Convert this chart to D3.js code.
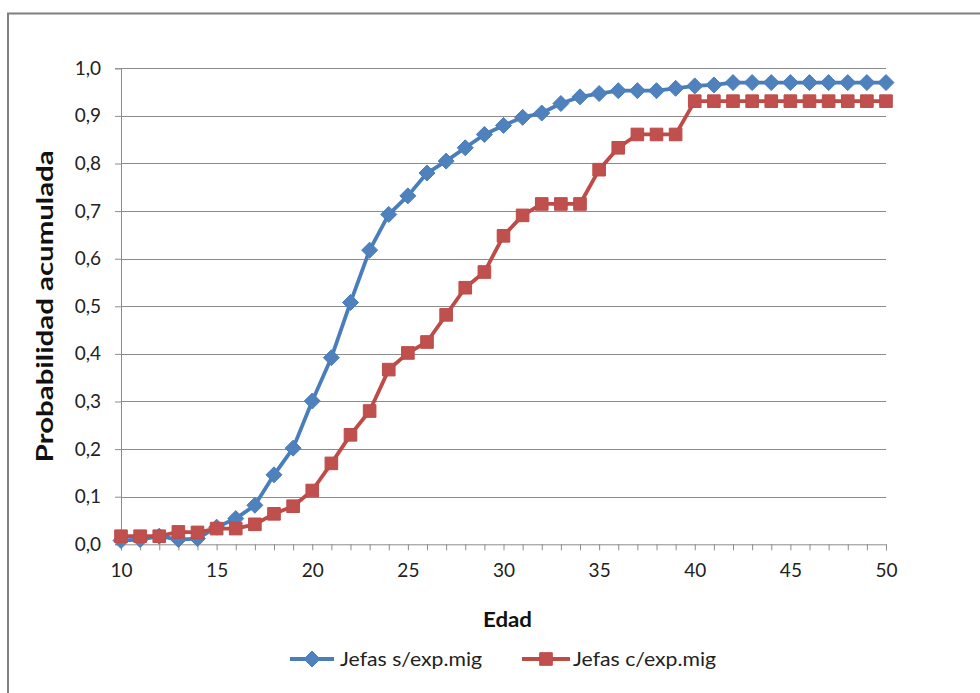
<!DOCTYPE html>
<html>
<head>
<meta charset="utf-8">
<script src="https://cdn.jsdelivr.net/npm/d3@7"></script>
<style>
  html, body { margin: 0; padding: 0; background: #fff; }
  svg { display: block; font-family: Lato, "Open Sans", sans-serif; }
</style>
</head>
<body>
<svg id="chart" width="980" height="693"></svg>
<script>
const edad = d3.range(10, 51);
const jefasSinExp = [0.008, 0.010, 0.017, 0.010, 0.012, 0.036, 0.054, 0.082, 0.146, 0.202,
  0.301, 0.392, 0.508, 0.618, 0.693, 0.732, 0.780, 0.805, 0.833, 0.861,
  0.880, 0.897, 0.906, 0.926, 0.940, 0.947, 0.953, 0.953, 0.953, 0.958,
  0.963, 0.965, 0.970, 0.970, 0.970, 0.970, 0.970, 0.970, 0.970, 0.970, 0.970];
const jefasConExp = [0.017, 0.017, 0.017, 0.026, 0.025, 0.033, 0.033, 0.042, 0.064, 0.080,
  0.113, 0.170, 0.230, 0.280, 0.367, 0.402, 0.425, 0.482, 0.539, 0.572,
  0.648, 0.691, 0.715, 0.715, 0.715, 0.787, 0.833, 0.861, 0.861, 0.861,
  0.931, 0.931, 0.931, 0.931, 0.931, 0.931, 0.931, 0.931, 0.931, 0.931, 0.931];
const seriesNames = ["Jefas s/exp.mig", "Jefas c/exp.mig"];
const xTicks = [10, 15, 20, 25, 30, 35, 40, 45, 50];
const yTicks = d3.range(0, 11).map(i => i / 10);
const yTitle = "Probabilidad acumulada";
const xTitle = "Edad";

const svg = d3.select("#chart");
const pLeft = 121, pRight = 886, pTop = 68.3, pBottom = 544.3;
const x = d3.scaleLinear().domain([10, 50]).range([pLeft, pRight]);
const y = d3.scaleLinear().domain([0, 1]).range([pBottom, pTop]);
const blue = "#4A7EBB", blueFill = "#4F81BD";
const red = "#BE4B48", redFill = "#C0504D";
const grid = "#8C8C8C";

// outer frame (only top and left visible)
svg.append("rect").attr("x", 8).attr("y", 13.5).attr("width", 1200).attr("height", 1000)
  .attr("fill", "none").attr("stroke", "#808080").attr("stroke-width", 2);

// gridlines
svg.append("g").selectAll("line").data(yTicks.filter(d => d > 0)).join("line")
  .attr("x1", pLeft).attr("x2", pRight)
  .attr("y1", d => Math.round(y(d)) + 0.5).attr("y2", d => Math.round(y(d)) + 0.5)
  .attr("stroke", grid).attr("stroke-width", 1);

const fmt = d => d3.format(".1f")(d).replace(".", ",");

// y axis
const yAxis = svg.append("g").attr("transform", `translate(${pLeft},0)`)
  .call(d3.axisLeft(y).tickValues(yTicks).tickFormat(fmt).tickSize(6).tickPadding(14));
yAxis.select(".domain").attr("stroke", grid);
yAxis.selectAll(".tick line").attr("stroke", grid);
yAxis.selectAll("text").attr("font-size", 19).attr("fill", "#222").attr("font-family", "Lato");

// x axis
const xAxis = svg.append("g").attr("transform", `translate(0,${pBottom})`)
  .call(d3.axisBottom(x).tickValues(edad).tickFormat(d => xTicks.includes(d) ? d : "").tickSize(6).tickPadding(13));
xAxis.select(".domain").attr("stroke", grid);
xAxis.selectAll(".tick line").attr("stroke", grid);
xAxis.selectAll("text").attr("font-size", 19).attr("fill", "#222").attr("font-family", "Lato");

// titles
svg.append("text").attr("transform", `translate(53,${(pTop + pBottom) / 2}) rotate(-90)`)
  .attr("text-anchor", "middle").attr("font-weight", "bold").attr("font-size", 22)
  .attr("textLength", 312).attr("lengthAdjust", "spacingAndGlyphs")
  .attr("fill", "#111").text(yTitle);
svg.append("text").attr("x", 507.5).attr("y", 627)
  .attr("text-anchor", "middle").attr("font-weight", "bold").attr("font-size", 20)
  .attr("textLength", 49).attr("lengthAdjust", "spacingAndGlyphs")
  .attr("fill", "#111").text(xTitle);

const line = d3.line().x((d, i) => x(edad[i])).y(d => y(d));
const diamondPath = "M0,-8L8,0L0,8L-8,0Z";
const squarePath = "M-6.3,-6.3H6.3V6.3H-6.3Z";

// series 1 (blue diamonds)
svg.append("path").datum(jefasSinExp).attr("d", line).attr("fill", "none")
  .attr("stroke", blue).attr("stroke-width", 3.8).attr("stroke-linejoin", "round");
svg.append("g").selectAll("path").data(jefasSinExp).join("path")
  .attr("transform", (d, i) => `translate(${x(edad[i])},${y(d)})`)
  .attr("d", diamondPath).attr("fill", blueFill).attr("stroke", blue).attr("stroke-width", 1);

// series 2 (red squares)
svg.append("path").datum(jefasConExp).attr("d", line).attr("fill", "none")
  .attr("stroke", red).attr("stroke-width", 3.8).attr("stroke-linejoin", "round");
svg.append("g").selectAll("path").data(jefasConExp).join("path")
  .attr("transform", (d, i) => `translate(${x(edad[i])},${y(d)})`)
  .attr("d", squarePath).attr("fill", redFill).attr("stroke", red).attr("stroke-width", 1);

// legend
const legY = 659;
const leg = [
  {name: seriesNames[0], x1: 290, x2: 334, color: blue, fill: blueFill, shape: diamondPath, tx: 340, w: 142},
  {name: seriesNames[1], x1: 522, x2: 570, color: red, fill: redFill, shape: squarePath, tx: 573, w: 143}
];
const lg = svg.append("g").selectAll("g").data(leg).join("g");
lg.append("line").attr("x1", d => d.x1).attr("x2", d => d.x2).attr("y1", legY).attr("y2", legY)
  .attr("stroke", d => d.color).attr("stroke-width", 3.8);
lg.append("path").attr("transform", d => `translate(${(d.x1 + d.x2) / 2},${legY})`)
  .attr("d", d => d.shape).attr("fill", d => d.fill).attr("stroke", d => d.color);
lg.append("text").attr("x", d => d.tx).attr("y", legY).attr("dy", "0.35em")
  .attr("font-size", 20).attr("textLength", d => d.w).attr("lengthAdjust", "spacingAndGlyphs")
  .attr("fill", "#222").text(d => d.name);
</script>
</body>
</html>
